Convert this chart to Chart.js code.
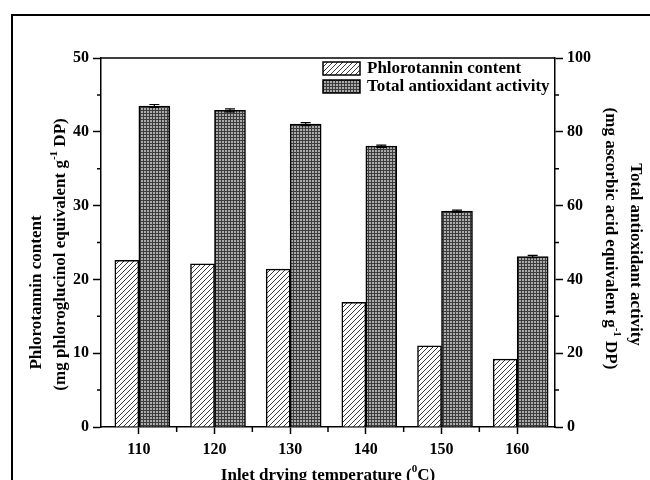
<!DOCTYPE html>
<html>
<head>
<meta charset="utf-8">
<script src="https://cdn.jsdelivr.net/npm/chart.js@4"></script>
<style>
html, body { margin: 0; padding: 0; background: #fff; }
#wrap { width: 650px; height: 480px; }
</style>
</head>
<body>
<div id="wrap"><canvas id="chart" width="650" height="480"></canvas></div>
<script>
// data
const categories = ['110', '120', '130', '140', '150', '160'];
const phlorotannin = [22.6, 22.1, 21.4, 16.9, 11.0, 9.2];
const antioxidant = [87.0, 85.8, 82.1, 76.1, 58.5, 46.2];
const antioxidantErr = [0.4, 0.4, 0.4, 0.3, 0.3, 0.3];
const leftTicks = [0, 10, 20, 30, 40, 50];
const rightTicks = [0, 20, 40, 60, 80, 100];

const FONT = '"Liberation Serif", "Times New Roman", serif';
const mainFont = 'bold 17px ' + FONT;
const supFont = 'bold 11px ' + FONT;

const canvas = document.getElementById('chart');
const ctx = canvas.getContext('2d');

function hatchPattern() {
    const c = document.createElement('canvas');
    c.width = 5; c.height = 5;
    const g = c.getContext('2d');
    g.fillStyle = '#fff';
    g.fillRect(0, 0, 5, 5);
    g.strokeStyle = '#3a3a3a';
    g.lineWidth = 1;
    g.beginPath();
    g.moveTo(0, 5); g.lineTo(5, 0);
    g.moveTo(-1, 1); g.lineTo(1, -1);
    g.moveTo(4, 6); g.lineTo(6, 4);
    g.stroke();
    return ctx.createPattern(c, 'repeat');
}

function dotPattern() {
    const c = document.createElement('canvas');
    c.width = 3; c.height = 3;
    const g = c.getContext('2d');
    g.fillStyle = '#3c3c3c';
    g.fillRect(0, 0, 3, 3);
    g.fillStyle = '#acacac';
    g.fillRect(0, 0, 2, 2);
    return ctx.createPattern(c, 'repeat');
}

// text with superscripts, centred on x,y
function drawRich(x, y, rot, parts) {
    ctx.save();
    ctx.translate(x, y);
    ctx.rotate(rot);
    ctx.fillStyle = '#000';
    ctx.textAlign = 'left';
    ctx.textBaseline = 'alphabetic';
    let total = 0;
    parts.forEach(p => {
        ctx.font = p.sup ? supFont : mainFont;
        p.w = ctx.measureText(p.t).width;
        total += p.w;
    });
    let cx = -total / 2;
    parts.forEach(p => {
        ctx.font = p.sup ? supFont : mainFont;
        ctx.fillText(p.t, cx, p.sup ? -2 : 6);
        cx += p.w;
    });
    ctx.restore();
}

function mids(arr) {
    const out = [];
    for (let i = 0; i < arr.length - 1; i++) out.push((arr[i] + arr[i + 1]) / 2);
    return out;
}

const decor = {
    id: 'decor',
    beforeDraw(chart) {
        const c = chart.ctx;
        c.save();
        c.strokeStyle = '#000';
        c.lineWidth = 2;
        c.beginPath();
        c.moveTo(12, 490);
        c.lineTo(12, 15);
        c.lineTo(660, 15);
        c.stroke();
        c.restore();
    },
    afterDatasetsDraw(chart) {
        const c = chart.ctx;
        const y2 = chart.scales.y2;
        const meta = chart.getDatasetMeta(1);
        c.save();
        c.strokeStyle = '#000';
        c.lineWidth = 1.2;
        meta.data.forEach((bar, i) => {
            const v = antioxidant[i], e = antioxidantErr[i];
            const top = y2.getPixelForValue(v + e);
            const bot = y2.getPixelForValue(v - e);
            c.beginPath();
            c.moveTo(bar.x, top); c.lineTo(bar.x, bot);
            c.moveTo(bar.x - 5, top); c.lineTo(bar.x + 5, top);
            c.moveTo(bar.x - 5, bot); c.lineTo(bar.x + 5, bot);
            c.stroke();
        });
        c.restore();
    },
    afterDraw(chart) {
        const c = chart.ctx;
        const a = chart.chartArea;
        const {x, y, y2} = chart.scales;
        c.save();
        c.strokeStyle = '#000';
        c.lineWidth = 1.5;
        // top frame
        c.beginPath();
        c.moveTo(a.left, a.top); c.lineTo(a.right, a.top);
        c.stroke();
        // minor ticks
        c.beginPath();
        mids(leftTicks).forEach(v => {
            const py = y.getPixelForValue(v);
            c.moveTo(a.left - 4, py); c.lineTo(a.left, py);
        });
        mids(rightTicks).forEach(v => {
            const py = y2.getPixelForValue(v);
            c.moveTo(a.right, py); c.lineTo(a.right + 4, py);
        });
        for (let i = 0; i < categories.length - 1; i++) {
            const px = (x.getPixelForValue(i) + x.getPixelForValue(i + 1)) / 2;
            c.moveTo(px, a.bottom); c.lineTo(px, a.bottom + 5);
        }
        c.stroke();

        // legend
        const lx = a.left + 222, ly = a.top + 4;
        chart.data.datasets.forEach((ds, i) => {
            const by = ly + i * 18;
            c.fillStyle = ds.backgroundColor;
            c.fillRect(lx, by, 37, 13);
            c.lineWidth = 1.5;
            c.strokeRect(lx, by, 37, 13);
            c.fillStyle = '#000';
            c.font = mainFont;
            c.textAlign = 'left';
            c.textBaseline = 'middle';
            c.fillText(ds.label, lx + 44, by + 7);
        });
        c.restore();

        // axis titles
        const midY = (a.top + a.bottom) / 2;
        drawRich(a.left - 66, midY + 50, -Math.PI / 2, [{t: 'Phlorotannin content'}]);
        drawRich(a.left - 42, midY + 12, -Math.PI / 2, [
            {t: '(mg phloroglucinol equivalent g'}, {t: '-1', sup: true}, {t: ' DP)'}
        ]);
        drawRich(a.right + 82, midY + 12, Math.PI / 2, [{t: 'Total antioxidant activity'}]);
        drawRich(a.right + 57, midY - 4, Math.PI / 2, [
            {t: '(mg ascorbic acid equivalent g'}, {t: '-1', sup: true}, {t: ' DP)'}
        ]);
        drawRich((a.left + a.right) / 2, a.bottom + 47, 0, [
            {t: 'Inlet drying temperature ('}, {t: '0', sup: true}, {t: 'C)'}
        ]);
    }
};

const tickFont = {family: FONT, size: 16, weight: 'bold'};

new Chart(ctx, {
    type: 'bar',
    data: {
        labels: categories,
        datasets: [{
            label: 'Phlorotannin content',
            data: phlorotannin,
            yAxisID: 'y',
            backgroundColor: hatchPattern(),
            borderColor: '#000',
            borderWidth: 1.5,
            barThickness: 24
        }, {
            label: 'Total antioxidant activity',
            data: antioxidant,
            yAxisID: 'y2',
            backgroundColor: dotPattern(),
            borderColor: '#000',
            borderWidth: 1.5,
            barThickness: 31
        }]
    },
    options: {
        responsive: false,
        animation: false,
        devicePixelRatio: 1,
        layout: { padding: { top: 58, left: 0, right: 0, bottom: 0 } },
        plugins: {
            legend: { display: false },
            tooltip: { enabled: false }
        },
        scales: {
            x: {
                offset: true,
                grid: { offset: false, drawOnChartArea: false, tickColor: '#000', tickLength: 7, tickWidth: 1.5 },
                border: { color: '#000', width: 1.5 },
                ticks: { color: '#000', font: tickFont, padding: 6 },
                afterFit: s => { s.height = 53; }
            },
            y: {
                position: 'left',
                min: leftTicks[0],
                max: leftTicks[leftTicks.length - 1],
                afterBuildTicks: s => { s.ticks = leftTicks.map(v => ({value: v})); },
                grid: { drawOnChartArea: false, tickColor: '#000', tickLength: 8, tickWidth: 1.5 },
                border: { color: '#000', width: 1.5 },
                ticks: { color: '#000', font: tickFont, padding: 4 },
                afterFit: s => { s.width = 101; }
            },
            y2: {
                position: 'right',
                min: rightTicks[0],
                max: rightTicks[rightTicks.length - 1],
                afterBuildTicks: s => { s.ticks = rightTicks.map(v => ({value: v})); },
                grid: { drawOnChartArea: false, tickColor: '#000', tickLength: 8, tickWidth: 1.5 },
                border: { color: '#000', width: 1.5 },
                ticks: { color: '#000', font: tickFont, padding: 4 },
                afterFit: s => { s.width = 95; }
            }
        }
    },
    plugins: [decor]
});
</script>
</body>
</html>
